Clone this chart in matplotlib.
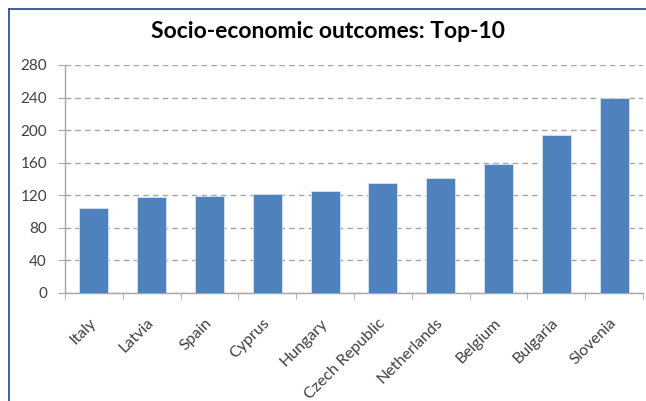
import matplotlib
matplotlib.use("Agg")
import matplotlib.pyplot as plt
from matplotlib.lines import Line2D

countries = ["Italy", "Latvia", "Spain", "Cyprus", "Hungary", "Czech Republic",
             "Netherlands", "Belgium", "Bulgaria", "Slovenia"]
values = [104, 118, 119.5, 121, 125.5, 135, 141.5, 158.5, 194.5, 240]
yticks = [0, 40, 80, 120, 160, 200, 240, 280]
title = "Socio-economic outcomes: Top-10"

plt.rcParams['font.family'] = ['Lato', 'DejaVu Sans']

W, H = 646, 401
fig = plt.figure(figsize=(W / 100, H / 100), dpi=100)
ax = fig.add_axes([65 / W, 1 - 293 / H, (643 - 65) / W, (293 - 65) / H])

x = list(range(len(countries)))
ax.bar(x, values, width=0.5, color="#4F81BD", edgecolor="#D9E3F0", linewidth=0.6, zorder=3)

ax.set_xlim(-0.5, len(countries) - 0.5)
ax.set_ylim(0, 280)
ax.set_yticks(yticks)
ax.set_yticklabels([str(t) for t in yticks], fontsize=11, color="#404040")
ax.yaxis.grid(True, linestyle=(0, (4, 3)), color="#A6A6A6", linewidth=1.0, zorder=0)

ax.set_xticks(x)
ax.set_xticklabels(countries, rotation=45, ha="right", va="center",
                   rotation_mode="anchor", fontsize=11.5, color="#404040")
ax.tick_params(axis="x", length=0, pad=20)
# category boundary ticks
ax.set_xticks([i - 0.5 for i in range(len(countries) + 1)], minor=True)
ax.tick_params(axis="x", which="minor", length=4, color="#A6A6A6", direction="out")
ax.tick_params(axis="y", length=5, color="#A6A6A6", direction="out", pad=8)

for s in ["top", "right"]:
    ax.spines[s].set_visible(False)
for s in ["left", "bottom"]:
    ax.spines[s].set_color("#A6A6A6")
    ax.spines[s].set_linewidth(1.0)

fig.text(328 / W, 1 - 32 / H, title, ha="center", va="center",
         fontsize=16.5, fontweight="bold", color="#000000")

# outer chart border (left and top visible)
fig.add_artist(Line2D([9 / W, 9 / W], [0, 1 - 9 / H], transform=fig.transFigure,
                      color="#2E50A0", linewidth=1.3))
fig.add_artist(Line2D([9 / W, 1], [1 - 9 / H, 1 - 9 / H], transform=fig.transFigure,
                      color="#2E50A0", linewidth=1.3))

fig.savefig("out.png", dpi=100, facecolor="white")
